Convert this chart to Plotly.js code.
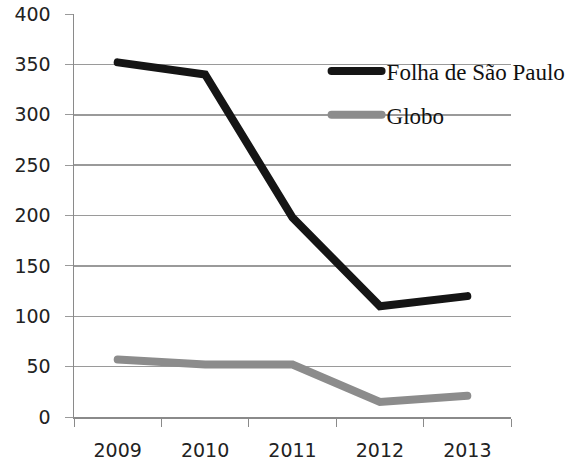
<!DOCTYPE html>
<html>
<head>
<meta charset="utf-8">
<script src="https://cdn.plot.ly/plotly-3.0.1.min.js"></script>
<style>html,body{margin:0;padding:0;background:#fff}#chart{width:580px;height:461px}
#chart path.js-line{stroke-linecap:round}</style>
</head>
<body>
<div id="chart"></div>
<script>
const years = ['2009', '2010', '2011', '2012', '2013'];
const folha = [352, 340, 198, 110, 120];
const globo = [57, 52, 52, 15, 21];
const yTicks = [0, 50, 100, 150, 200, 250, 300, 350, 400];

const traces = [
  {x: years, y: folha, name: 'Folha de São Paulo', type: 'scatter', mode: 'lines',
   legendgroup: 'a', line: {color: '#151515', width: 8}},
  {x: years, y: globo, name: 'Globo', type: 'scatter', mode: 'lines',
   legendgroup: 'b', line: {color: '#8c8c8c', width: 8}}
];

const layout = {
  width: 580, height: 461,
  margin: {l: 74, r: 69, t: 14, b: 44, autoexpand: false},
  paper_bgcolor: '#fff', plot_bgcolor: '#fff',
  showlegend: true,
  legend: {
    x: 0.578, y: 0.912, xanchor: 'left', yanchor: 'top',
    bgcolor: 'rgba(0,0,0,0)', itemwidth: 50, tracegroupgap: 11,
    font: {family: 'Liberation Serif, serif', size: 23, color: '#111'}
  },
  shapes: [{type: 'rect', layer: 'between', xref: 'paper', yref: 'y',
            x0: 0.51, x1: 1, y0: 270, y1: 385,
            fillcolor: '#fff', line: {width: 0}}],
  xaxis: {
    type: 'category', showgrid: false, zeroline: false,
    showline: true, linecolor: '#8a8a8a', linewidth: 1.5,
    ticks: 'outside', ticklen: 8, tickcolor: '#8a8a8a',
    tickson: 'boundaries', range: [-0.5, 4.5], ticklabelstandoff: 16,
    tickfont: {family: 'DejaVu Sans, sans-serif', size: 19, color: '#222'}
  },
  yaxis: {
    range: [0, 400], tickvals: yTicks, ticktext: yTicks.map(String),
    showgrid: true, gridcolor: '#9a9a9a', gridwidth: 1.5,
    zeroline: false, showline: true, linecolor: '#8a8a8a', linewidth: 1.5,
    ticks: 'outside', ticklen: 8, tickcolor: '#9a9a9a', ticklabelstandoff: 10,
    tickfont: {family: 'DejaVu Sans, sans-serif', size: 19, color: '#222'}
  }
};

Plotly.newPlot('chart', traces, layout, {displayModeBar: false, staticPlot: true});
</script>
</body>
</html>
